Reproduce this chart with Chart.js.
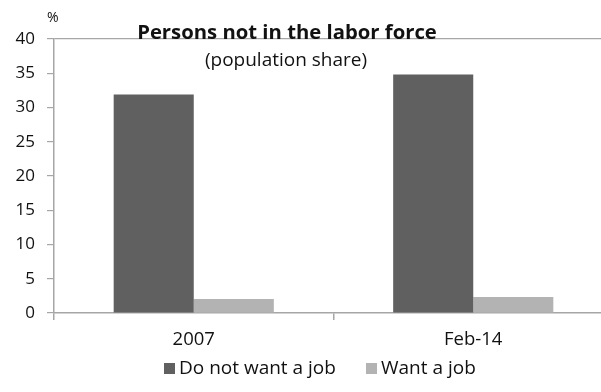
<!DOCTYPE html>
<html>
<head>
<meta charset="utf-8">
<script src="https://cdn.jsdelivr.net/npm/chart.js@4/dist/chart.umd.min.js"></script>
<style>
  html, body { margin: 0; padding: 0; background: #fff; overflow: hidden; }
  #wrap { position: relative; width: 613px; height: 392px; }
</style>
</head>
<body>
<div id="wrap"><canvas id="chart" width="613" height="392"></canvas></div>
<script>
// Persons not in the labor force, share of population (%)
const categories = ["2007", "Feb-14"];
const doNotWantJob = [31.9, 34.8];
const wantJob = [2.05, 2.35];
const yTicks = [0, 5, 10, 15, 20, 25, 30, 35, 40];

const FONT = "'Open Sans', 'DejaVu Sans', sans-serif";
const AXIS_GRAY = "#a6a6a6";

// title, subtitle and unit label drawn over the chart
const headerText = {
  id: "headerText",
  afterDraw(chart) {
    const ctx = chart.ctx;
    ctx.save();
    ctx.fillStyle = "#111";
    ctx.textAlign = "center";
    ctx.textBaseline = "alphabetic";
    ctx.font = "bold 20.3px " + FONT;
    ctx.fillText("Persons not in the labor force", 287, 39);
    ctx.font = "19px " + FONT;
    ctx.fillText("(population share)", 286, 66);
    ctx.font = "14px " + FONT;
    ctx.textAlign = "left";
    ctx.fillText("%", 47, 22);
    ctx.restore();
  }
};

// legend row under the axis: small square + dataset label
const bottomLegend = {
  id: "bottomLegend",
  afterDraw(chart) {
    const ctx = chart.ctx;
    const starts = [164, 366];
    const midY = 368;
    ctx.save();
    ctx.font = "19px " + FONT;
    ctx.textBaseline = "middle";
    ctx.textAlign = "left";
    chart.data.datasets.forEach((ds, i) => {
      const x = starts[i];
      ctx.fillStyle = ds.backgroundColor;
      ctx.fillRect(x, midY - 5, 11, 11);
      ctx.fillStyle = "#111";
      ctx.fillText(ds.label, x + 15, midY + 1);
    });
    ctx.restore();
  }
};

new Chart(document.getElementById("chart"), {
  type: "bar",
  data: {
    labels: categories,
    datasets: [
      {
        label: "Do not want a job",
        data: doNotWantJob,
        backgroundColor: "#606060",
        categoryPercentage: 0.573,
        barPercentage: 1.0
      },
      {
        label: "Want a job",
        data: wantJob,
        backgroundColor: "#b3b3b3",
        categoryPercentage: 0.573,
        barPercentage: 1.0
      }
    ]
  },
  options: {
    responsive: false,
    animation: false,
    layout: { padding: { top: 39, left: 0, right: 0, bottom: 43 } },
    plugins: {
      title: { display: false },
      tooltip: { enabled: false },
      legend: { display: false }
    },
    scales: {
      x: {
        offset: true,
        border: { color: AXIS_GRAY, width: 1.5 },
        grid: {
          offset: true,
          drawOnChartArea: false,
          drawTicks: true,
          tickLength: 7,
          color: AXIS_GRAY,
          lineWidth: 1.5
        },
        ticks: {
          font: { family: FONT, size: 18.5 },
          color: "#111",
          padding: 9
        },
        afterFit(scale) { scale.height = 36; }
      },
      y: {
        min: 0,
        max: 40,
        afterBuildTicks(scale) { scale.ticks = yTicks.map(v => ({ value: v })); },
        border: { color: AXIS_GRAY, width: 1.5 },
        grid: {
          drawTicks: true,
          tickLength: 7,
          tickColor: AXIS_GRAY,
          color: (c) => (c.tick && c.tick.value === 40 ? AXIS_GRAY : "rgba(0,0,0,0)"),
          lineWidth: 1.2
        },
        ticks: {
          font: { family: FONT, size: 17 },
          color: "#111",
          padding: 12
        },
        afterFit(scale) { scale.width = 54; }
      }
    }
  },
  plugins: [headerText, bottomLegend]
});
</script>
</body>
</html>
